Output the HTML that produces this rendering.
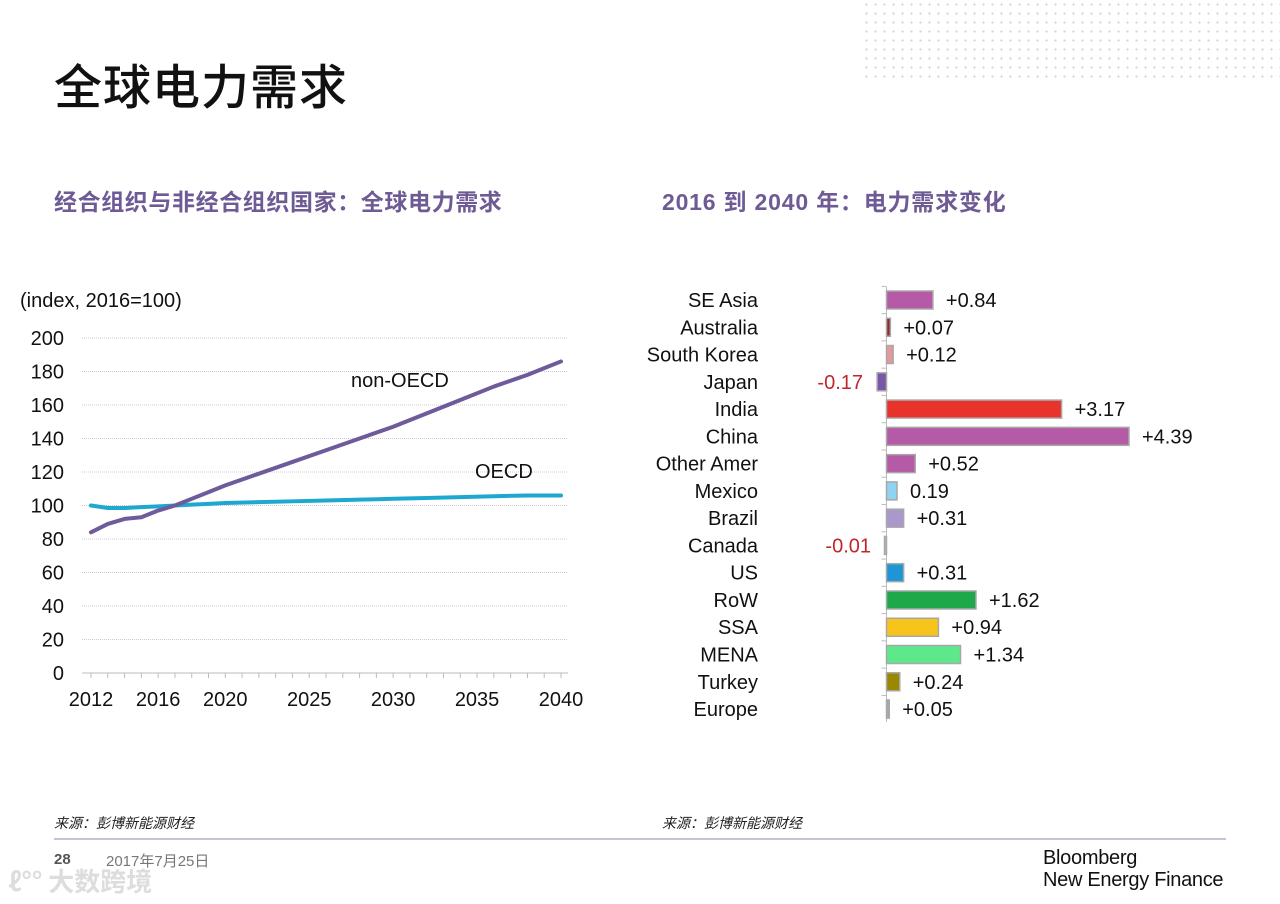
<!DOCTYPE html>
<html><head><meta charset="utf-8">
<style>
body{margin:0;width:1280px;height:904px;background:#fff;overflow:hidden;position:relative;font-family:"Liberation Sans","Noto Sans CJK SC",sans-serif}
.abs{position:absolute}
.dots{left:862px;top:0;width:418px;height:78px;background-image:radial-gradient(circle,#c8c8cc 0.9px,transparent 1.3px);background-size:9px 9px;opacity:.8}
</style></head><body>
<div class="abs dots"></div>
<div class="abs" style="left:54px;top:48px;font-size:48px;letter-spacing:1px;color:#111;font-family:'Noto Sans CJK SC',sans-serif;font-weight:500">全球电力需求</div>
<div class="abs" style="left:54px;top:183px;font-size:23px;letter-spacing:0.6px;color:#6e5a95;font-weight:bold;font-family:'Noto Sans CJK SC',sans-serif">经合组织与非经合组织国家：全球电力需求</div>
<div class="abs" style="left:662px;top:183px;font-size:23px;letter-spacing:0.8px;color:#6e5a95;font-weight:bold;font-family:'Liberation Sans','Noto Sans CJK SC',sans-serif">2016 到 2040 年：电力需求变化</div>
<svg class="abs" style="left:0;top:0" width="1280" height="904" id="svg"></svg>
<div class="abs" style="left:54px;top:813px;font-size:14px;font-style:italic;color:#222;font-family:'Noto Sans CJK SC',sans-serif">来源：彭博新能源财经</div>
<div class="abs" style="left:662px;top:813px;font-size:14px;font-style:italic;color:#222;font-family:'Noto Sans CJK SC',sans-serif">来源：彭博新能源财经</div>
<div class="abs" style="left:54px;top:838px;width:1172px;height:2px;background:#c9c3d6"></div>
<div class="abs" style="left:54px;top:851px;font-size:15px;color:#555;font-weight:bold">28</div>
<div class="abs" style="left:106px;top:850px;font-size:15px;color:#777;font-family:'Liberation Sans','Noto Sans CJK SC',sans-serif">2017年7月25日</div>
<div class="abs" style="left:8px;top:862px;font-size:26px;color:#ddd;font-weight:bold;font-family:'Noto Sans CJK SC',sans-serif">ℓ°° 大数跨境</div>
<div class="abs" style="left:1043px;top:847px;font-size:20px;line-height:22px;color:#111;letter-spacing:-0.3px">Bloomberg<br>New Energy Finance</div>
<script>
const NS="http://www.w3.org/2000/svg";const svg=document.getElementById('svg');
function mk(t,a,txt){const e=document.createElementNS(NS,t);for(const k in a)e.setAttribute(k,a[k]);if(txt!==undefined)e.textContent=txt;svg.appendChild(e);return e;}
// Left chart data
const years=[2012,2013,2014,2015,2016,2017,2018,2019,2020,2022,2024,2026,2028,2030,2032,2034,2036,2038,2040];
const nonOECD=[84,89,92,93,97,100,104,108,112,119,126,133,140,147,155,163,171,178,186];
const OECD=[100,98.5,98.5,99,99.5,100,100.5,101,101.5,102,102.5,103,103.5,104,104.5,105,105.5,106,106];
const yTicks=[0,20,40,60,80,100,120,140,160,180,200];
const xTicks=[2012,2016,2020,2025,2030,2035,2040];
const X=y=>91+(y-2012)*(561-91)/28, Y=v=>673-v*(673-338)/200;
mk('text',{x:20,y:307,'font-size':20,fill:'#111'},'(index, 2016=100)');
yTicks.forEach(t=>{
 const g=mk('line',{x1:82,x2:568,y1:Y(t),y2:Y(t),stroke:'#ccc','stroke-dasharray':'1 1'});
 
 const l=mk('text',{x:64,y:Y(t)+7,'font-size':20,fill:'#111','text-anchor':'end'},t);
 
});
mk('line',{x1:83,x2:568,y1:Y(0),y2:Y(0),stroke:'#bbb'});
for(let yr=2012;yr<=2040;yr++){mk('line',{x1:X(yr),x2:X(yr),y1:Y(0),y2:Y(0)+5,stroke:'#bbb'});}
xTicks.forEach(t=>{const l=mk('text',{x:X(t),y:706,'font-size':20,fill:'#111','text-anchor':'middle'},t);
 });
function line(vals,color,name){const p=mk('polyline',{points:years.map((y,i)=>X(y)+','+Y(vals[i])).join(' '),fill:'none',stroke:color,'stroke-width':4,'stroke-linejoin':'round','stroke-linecap':'round'});
 }
line(OECD,'#1fa8cf','oecd-line');line(nonOECD,'#6f5a9c','non-oecd-line');
mk('text',{x:351,y:387,'font-size':20,fill:'#111'},'non-OECD');
mk('text',{x:475,y:478,'font-size':20,fill:'#111'},'OECD');
// Right chart data
const regions=['SE Asia','Australia','South Korea','Japan','India','China','Other Amer','Mexico','Brazil','Canada','US','RoW','SSA','MENA','Turkey','Europe'];
const changes=[0.84,0.07,0.12,-0.17,3.17,4.39,0.52,0.19,0.31,-0.01,0.31,1.62,0.94,1.34,0.24,0.05];
const valueLabels=['+0.84','+0.07','+0.12','-0.17','+3.17','+4.39','+0.52','0.19','+0.31','-0.01','+0.31','+1.62','+0.94','+1.34','+0.24','+0.05'];
const colors=['#b55aa6','#8a3030','#e39a9a','#7a56a8','#e8322b','#b55aa6','#b55aa6','#8ed3f2','#a998c9','#bbb','#1e96d6','#1fa84a','#f7c41c','#5ee88c','#9a8800','#a9a9a9'];
const Z=886.5,K=(1129-886.5)/4.39,R0=300,RS=27.27;
mk('line',{x1:Z,x2:Z,y1:287,y2:722,stroke:'#bbb'});
regions.forEach((r,i)=>{
 const cy=R0+i*RS,v=changes[i];
 mk('line',{x1:Z-5,x2:Z,y1:cy-RS/2,y2:cy-RS/2,stroke:'#bbb'});
 const lab=mk('text',{x:758,y:cy+7,'font-size':20,fill:'#111','text-anchor':'end'},r);
 
 const w=Math.max(Math.abs(v)*K,2);const x=v<0?Z-w:Z;
 const b=mk('rect',{x:x,y:cy-9,width:w,height:18,fill:colors[i],stroke:'#a8a8a8','stroke-width':1.5});
 
 let t;
 if(v<0) t=mk('text',{x:(v>-0.05?871:863),y:cy+7,'font-size':20,fill:'#c0272d','text-anchor':'end'},valueLabels[i]);
 else t=mk('text',{x:Z+w+13,y:cy+7,'font-size':20,fill:'#111'},valueLabels[i]);
 
});
</script>
</body></html>
